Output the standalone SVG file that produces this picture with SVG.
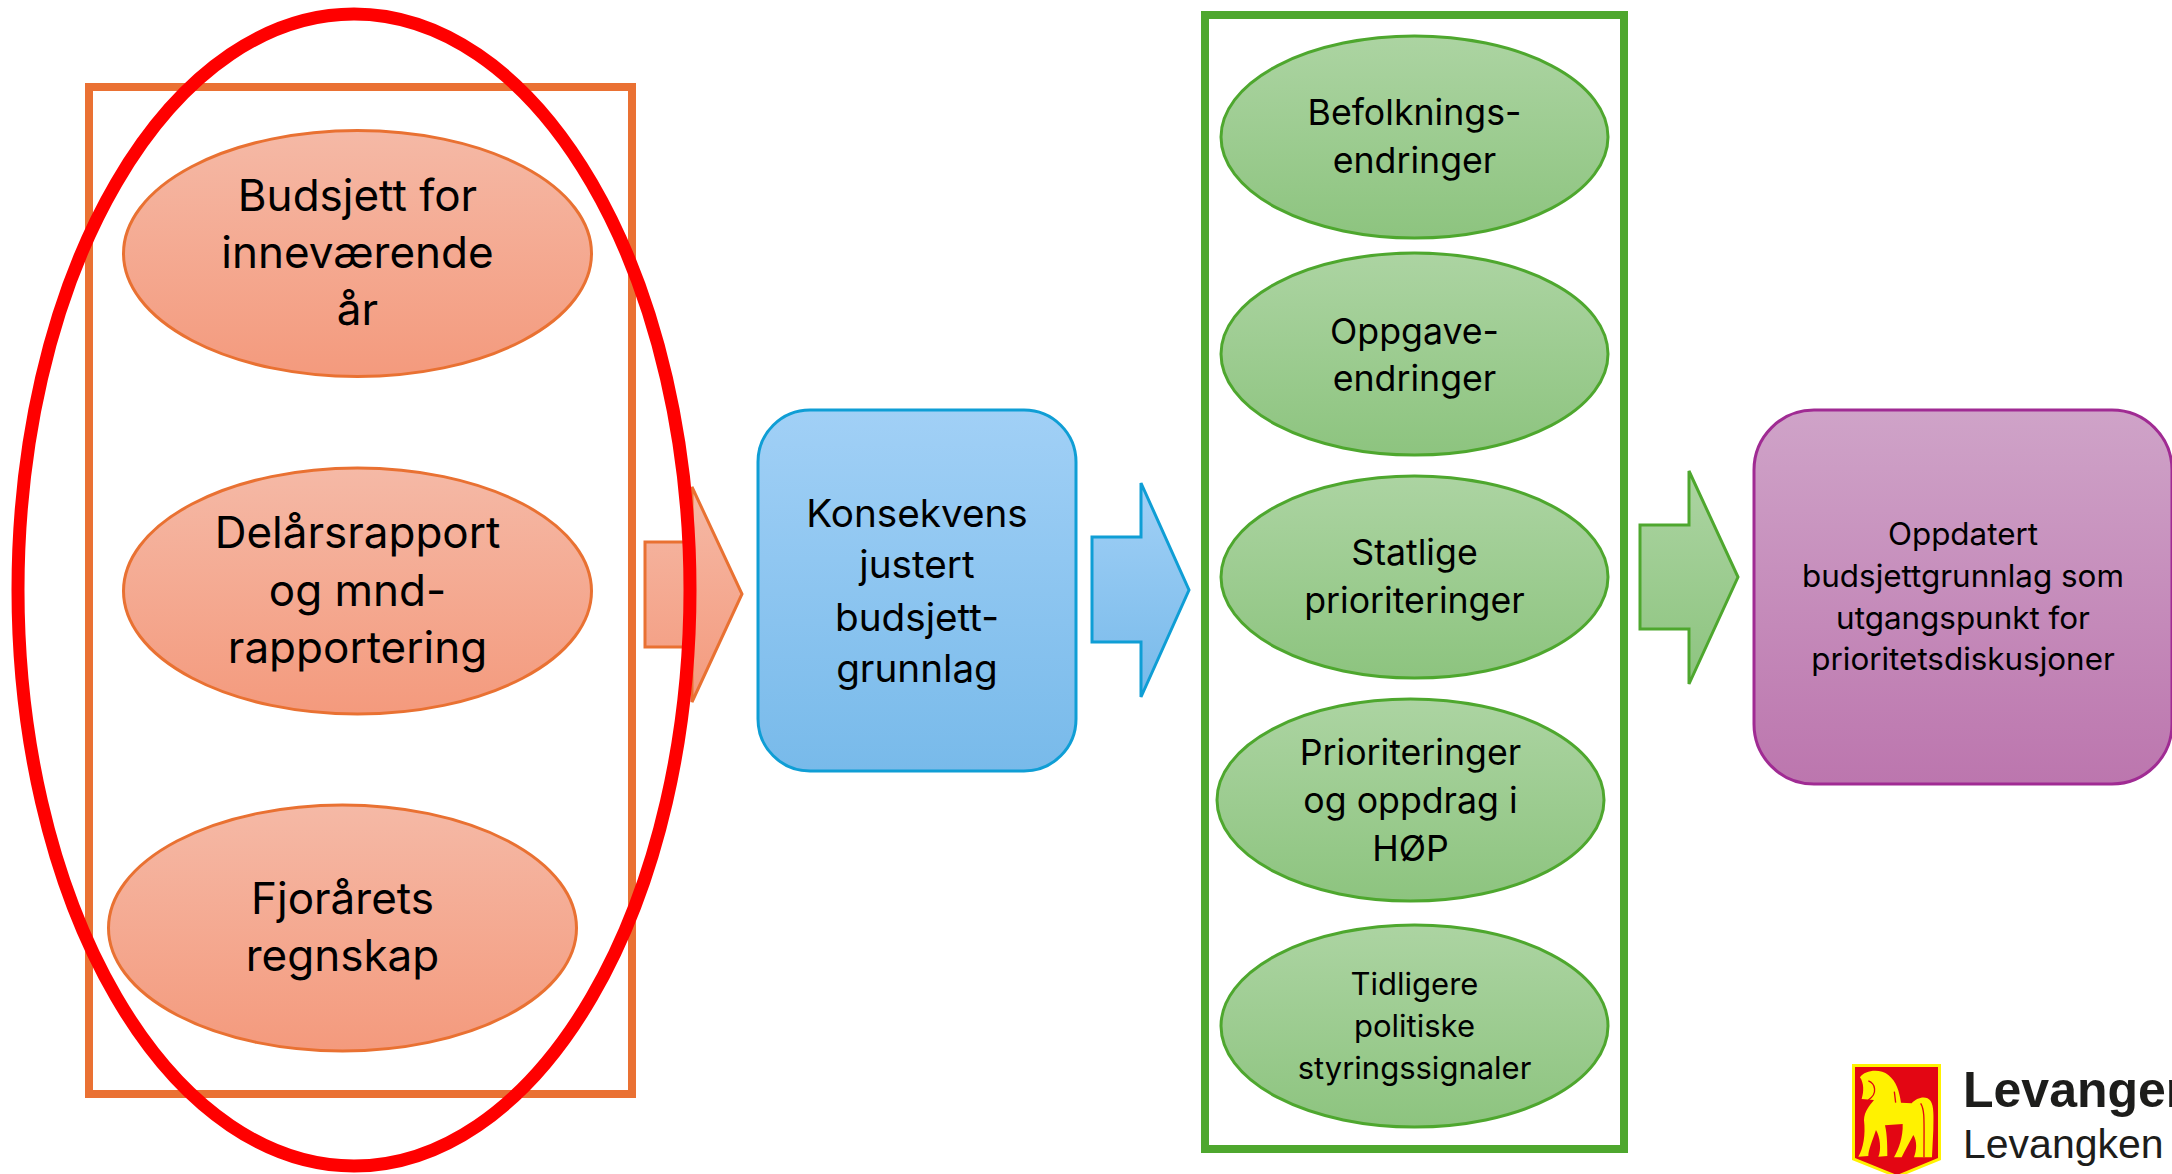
<svg xmlns="http://www.w3.org/2000/svg" width="2172" height="1174" viewBox="0 0 2172 1174">
<style>
text{font-family:"Inter","Liberation Sans",sans-serif;fill:#000;text-anchor:middle}
.o{fill:url(#go);stroke:#E97132;stroke-width:3}
.g{fill:url(#gg);stroke:#4EA72E;stroke-width:3}
.b{fill:url(#gb);stroke:#0F9ED5;stroke-width:3}
.p{fill:url(#gp);stroke:#A02B93;stroke-width:3}
.l{font-size:44px}.k{font-size:38.7px}.m{font-size:35.7px}.s{font-size:31px}.t{font-size:31.4px}
.logo{font-family:"Liberation Sans",Arial,sans-serif;fill:#1d1d1b;text-anchor:start}
</style>
<defs>
<linearGradient id="go" x1="0" y1="0" x2="0" y2="1"><stop offset="0" stop-color="#F5B9A6"/><stop offset="1" stop-color="#F49A7D"/></linearGradient>
<linearGradient id="gg" x1="0" y1="0" x2="0" y2="1"><stop offset="0" stop-color="#ACD4A2"/><stop offset="1" stop-color="#8DC47F"/></linearGradient>
<linearGradient id="gb" x1="0" y1="0" x2="0" y2="1"><stop offset="0" stop-color="#A1D0F6"/><stop offset="1" stop-color="#78BAEA"/></linearGradient>
<linearGradient id="gp" x1="0" y1="0" x2="0" y2="1"><stop offset="0" stop-color="#CFA3C8"/><stop offset="1" stop-color="#BC76AE"/></linearGradient>
</defs>
<rect width="2172" height="1174" fill="#fff"/>
<rect id="orange-frame" x="89" y="87" width="543" height="1007" fill="none" stroke="#EA7133" stroke-width="8"/>
<rect id="green-frame" x="1205" y="15" width="419" height="1134" fill="none" stroke="#4EA72E" stroke-width="8"/>
<g id="connectors">
<polygon id="arrow-orange" class="o" points="645,542 692,542 692,487 742,594 692,702 692,647 645,647"/>
<polygon id="arrow-blue" class="b" points="1092,537 1141,537 1141,483 1189,590 1141,697 1141,642 1092,642"/>
<polygon id="arrow-green" class="g" points="1640,525 1689,525 1689,471 1738,577 1689,684 1689,629 1640,629"/>
</g>
<g id="n-budsjett"><ellipse class="o" cx="357.500" cy="253.500" rx="234" ry="123"/><text class="l"><tspan x="357.500" y="211">Budsjett for</tspan><tspan x="357.500" y="268">inneværende</tspan><tspan x="357.500" y="325">år</tspan></text></g>
<g id="n-delars"><ellipse class="o" cx="357.500" cy="591" rx="234" ry="123"/><text class="l"><tspan x="357.500" y="548">Delårsrapport</tspan><tspan x="357.500" y="606">og mnd-</tspan><tspan x="357.500" y="663">rapportering</tspan></text></g>
<g id="n-fjor"><ellipse class="o" cx="342.500" cy="928" rx="234" ry="123"/><text class="l"><tspan x="342.500" y="914">Fjorårets</tspan><tspan x="342.500" y="971">regnskap</tspan></text></g>
<g id="n-konsekvens"><rect class="b" x="758" y="410" width="318" height="361" rx="52"/><text class="k"><tspan x="917" y="527">Konsekvens</tspan><tspan x="917" y="578">justert</tspan><tspan x="917" y="631">budsjett-</tspan><tspan x="917" y="682">grunnlag</tspan></text></g>
<g id="n-befolkning"><ellipse class="g" cx="1414.500" cy="137" rx="193.500" ry="101"/><text class="m"><tspan x="1414.500" y="125">Befolknings-</tspan><tspan x="1414.500" y="173">endringer</tspan></text></g>
<g id="n-oppgave"><ellipse class="g" cx="1414.500" cy="354" rx="193.500" ry="101"/><text class="m"><tspan x="1414.500" y="344">Oppgave-</tspan><tspan x="1414.500" y="391">endringer</tspan></text></g>
<g id="n-statlige"><ellipse class="g" cx="1414.500" cy="577" rx="193.500" ry="101"/><text class="m"><tspan x="1414.500" y="565">Statlige</tspan><tspan x="1414.500" y="613">prioriteringer</tspan></text></g>
<g id="n-hop"><ellipse class="g" cx="1410.500" cy="800" rx="193.500" ry="101"/><text class="m"><tspan x="1410.500" y="765">Prioriteringer</tspan><tspan x="1410.500" y="813">og oppdrag i</tspan><tspan x="1410.500" y="861">HØP</tspan></text></g>
<g id="n-tidligere"><ellipse class="g" cx="1414.500" cy="1026" rx="193.500" ry="101"/><text class="s"><tspan x="1414.500" y="995">Tidligere</tspan><tspan x="1414.500" y="1037">politiske</tspan><tspan x="1414.500" y="1079">styringssignaler</tspan></text></g>
<g id="n-oppdatert"><rect class="p" x="1754" y="410" width="418" height="374" rx="60"/><text class="t"><tspan x="1963" y="545">Oppdatert</tspan><tspan x="1963" y="587">budsjettgrunnlag som</tspan><tspan x="1963" y="629">utgangspunkt for</tspan><tspan x="1963" y="670">prioritetsdiskusjoner</tspan></text></g>
<ellipse id="red-ellipse" cx="354" cy="590" rx="336" ry="576" fill="none" stroke="#FF0000" stroke-width="13"/>
<g id="logo">
<path d="M1852,1064H1941V1160L1897,1178L1852,1160Z" fill="#FFF200"/>
<path d="M1855,1067H1938V1158L1897,1175L1855,1158Z" fill="#E30613"/>
<g transform="translate(1800 1020) scale(.3333)">
<path fill="#FFF200" d="M180,172C195,150 240,145 265,165C290,185 298,215 303,248L335,250C350,232 380,225 392,243C402,258 401,290 400,330L396,412L342,412C350,390 352,365 340,345C330,365 315,390 305,412L282,412C295,390 310,350 308,312L255,316C262,345 262,385 262,408L235,410C245,390 240,350 228,330C218,360 205,390 205,408L175,410C190,385 197,345 192,300C192,275 210,255 222,240L185,237C192,215 192,190 180,172Z"/>
<path fill="none" stroke="#E30613" stroke-width="4" d="M205,183C225,190 235,220 205,240M283,215L287,248M362,250C375,270 372,300 372,412"/>
</g>
<text class="logo" x="1963" y="1107" font-size="50" font-weight="700">Levanger</text>
<text class="logo" x="1963" y="1158" font-size="41">Levangken</text>
</g>
</svg>
